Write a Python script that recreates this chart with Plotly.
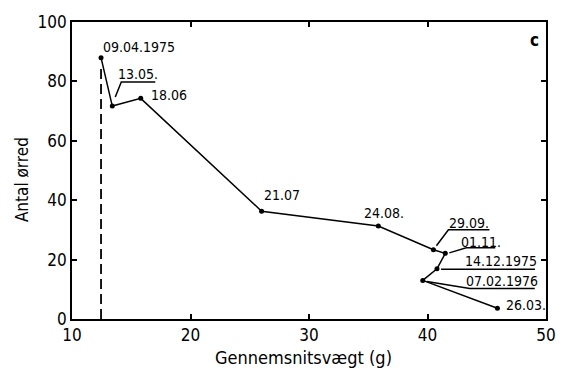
import plotly.graph_objects as go

# Mean weight (g) and number of trout at each sampling date
dates = ["09.04.1975", "13.05.", "18.06", "21.07", "24.08.", "29.09.",
         "01.11.", "14.12.1975", "07.02.1976", "26.03."]
weight = [12.45, 13.4, 15.8, 26.0, 35.85, 40.5, 41.5, 40.8, 39.6, 45.9]
count = [88, 71.7, 74.3, 36.3, 31.3, 23.3, 22.1, 16.9, 13.0, 3.6]

x_ticks = [10, 20, 30, 40, 50]
y_ticks = [0, 20, 40, 60, 80, 100]

FONT = "DejaVu Sans Condensed, Liberation Sans Narrow, sans-serif"

fig = go.Figure()

# dashed drop line from the first sample down to the axis
fig.add_trace(go.Scatter(
    x=[weight[0], weight[0]], y=[0, count[0] - 3],
    mode="lines", line=dict(color="black", width=1.8, dash="10px,5px"),
    hoverinfo="skip", showlegend=False))

fig.add_trace(go.Scatter(
    x=weight, y=count, mode="lines+markers",
    line=dict(color="black", width=1.5),
    marker=dict(color="black", size=5),
    showlegend=False))

# label placement (pixel offsets from the point): text centre, and leader path
labels = {
    0: dict(text=(38, 11)),
    1: dict(text=(26, 32), leader=[(3, 9), (9, 24), (43, 24)]),
    2: dict(text=(28, 3.5)),
    3: dict(text=(20, 16.5)),
    4: dict(text=(6, 13.5)),
    5: dict(text=(35.5, 26.5), leader=[(3, 4), (15, 20), (56, 20)]),
    6: dict(text=(36, 11.5), leader=[(4, 0.5), (21, 5.5), (50, 5.5)]),
    7: dict(text=(64.5, 7.5), leader=[(4, -0.5), (98, -0.5)]),
    8: dict(text=(79, -1), leader=[(4, -1), (47, -8), (112, -8)]),
    9: dict(text=(29, 3)),
}

annotations = []
shapes = []
for i, spec in labels.items():
    dx, dy = spec["text"]
    annotations.append(dict(
        x=weight[i], y=count[i], xref="x", yref="y",
        xshift=dx, yshift=dy, text=dates[i], showarrow=False,
        font=dict(family=FONT, size=14, color="black")))
    if "leader" in spec:
        pts = spec["leader"]
        path = "M " + " L ".join(f"{px},{py}" for px, py in pts)
        shapes.append(dict(
            type="path", path=path, xref="x", yref="y",
            xsizemode="pixel", ysizemode="pixel",
            xanchor=weight[i], yanchor=count[i],
            line=dict(color="black", width=1.5)))

# panel letter and axis titles
annotations.append(dict(
    x=0.975, y=0.94, xref="paper", yref="paper", text="<b>c</b>",
    xanchor="center", yanchor="middle",
    showarrow=False, font=dict(family=FONT, size=17, color="black")))
annotations.append(dict(
    x=0.4875, y=-0.13, xref="paper", yref="paper",
    text="Gennemsnitsvægt (g)", xanchor="center", yanchor="middle",
    showarrow=False, font=dict(family=FONT, size=18, color="black")))
annotations.append(dict(
    x=-0.104, y=0.47, xref="paper", yref="paper",
    text="Antal ørred", textangle=-90, xanchor="center", yanchor="middle",
    showarrow=False, font=dict(family=FONT, size=17, color="black")))

axis_common = dict(
    showline=True, linecolor="black", linewidth=1.8, mirror="ticks",
    ticks="inside", ticklen=5, tickwidth=1.5, tickcolor="black",
    showgrid=False, zeroline=False,
    tickfont=dict(family=FONT, size=17, color="black"),
)

fig.update_layout(
    width=568, height=379,
    margin=dict(l=72, r=16, t=19, b=60),
    paper_bgcolor="white", plot_bgcolor="white",
    xaxis=dict(range=[10, 50], tickvals=x_ticks, **axis_common),
    yaxis=dict(range=[0, 100], tickvals=y_ticks, **axis_common),
    annotations=annotations,
    shapes=shapes,
)

fig.write_html("out.html")
